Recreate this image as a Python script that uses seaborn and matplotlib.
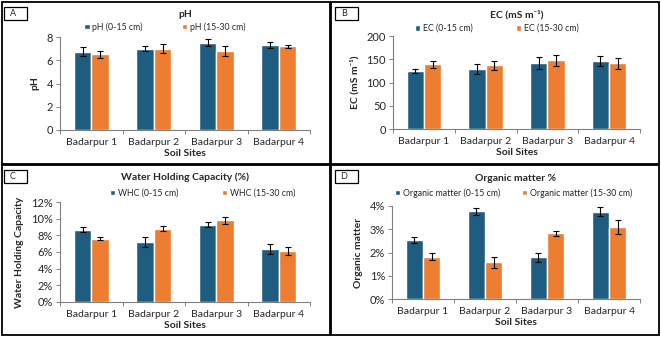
import numpy as np
import pandas as pd
import matplotlib

matplotlib.use("Agg")
import matplotlib.pyplot as plt
import matplotlib.ticker as mtick
from matplotlib.patches import Rectangle
import seaborn as sns

sites = ["Badarpur 1", "Badarpur 2", "Badarpur 3", "Badarpur 4"]

ph_top = [6.75, 7.0, 7.5, 7.3]
ph_top_err = [0.35, 0.2, 0.3, 0.25]
ph_sub = [6.5, 7.0, 6.8, 7.2]
ph_sub_err = [0.3, 0.4, 0.45, 0.15]

ec_top = [124, 129, 141, 147]
ec_top_err = [4, 10, 13, 11]
ec_sub = [139, 137, 148, 141]
ec_sub_err = [8, 10, 12, 11]

whc_top = [8.7, 7.2, 9.3, 6.4]
whc_top_err = [0.3, 0.55, 0.25, 0.6]
whc_sub = [7.6, 8.8, 9.8, 6.1]
whc_sub_err = [0.2, 0.3, 0.4, 0.45]

om_top = [2.55, 3.77, 1.8, 3.75]
om_top_err = [0.12, 0.15, 0.2, 0.2]
om_sub = [1.82, 1.57, 2.82, 3.1]
om_sub_err = [0.15, 0.25, 0.1, 0.3]

BLUE = "#1F5D80"
ORANGE = "#ED7D31"

sns.set_theme(style="white")
plt.rcParams["font.family"] = ["Lato", "DejaVu Sans"]

W, H = 661, 338
fig = plt.figure(figsize=(W / 100, H / 100), dpi=100)


def px_axes(left, top, right, bottom):
    return fig.add_axes([left / W, 1 - bottom / H, (right - left) / W, (bottom - top) / H])


def panel(ax, top, top_err, sub, sub_err, name, title, ylabel, ylim, yticks, pct,
          title_y, leg_y, leg_cx, colsp):
    df = pd.DataFrame({
        "site": sites * 2,
        "value": top + sub,
        "err": top_err + sub_err,
        "depth": [f"{name} (0-15 cm)"] * 4 + [f"{name} (15-30 cm)"] * 4,
    })
    sns.barplot(data=df, x="site", y="value", hue="depth", palette=[BLUE, ORANGE],
                width=0.56, gap=0, errorbar=None, ax=ax, saturation=1)
    # error bars on bar centres
    bars = [p for p in ax.patches if p.get_height() > 0][:8]
    for bar, (_, row) in zip(bars, df.iterrows()):
        ax.errorbar(bar.get_x() + bar.get_width() / 2, bar.get_height(), yerr=row["err"],
                    fmt="none", ecolor="black", elinewidth=0.8, capsize=2, capthick=0.8)
    ax.set_ylim(*ylim)
    ax.set_yticks(yticks)
    ax.set_xlim(-0.5, 3.5)
    if pct:
        ax.yaxis.set_major_formatter(mtick.FuncFormatter(lambda v, p: f"{v:.0f}%"))
    ax.set_xlabel("Soil Sites", fontsize=7.5, fontweight="bold", labelpad=1)
    ax.set_ylabel(ylabel, fontsize=7.5, fontweight="bold", labelpad=5)
    ax.tick_params(axis="x", which="major", length=0, labelsize=7.5, pad=6)
    ax.tick_params(axis="y", which="major", length=3, width=0.7, color="#808080",
                   labelsize=8, pad=2, direction="out", left=True)
    ax.xaxis.set_minor_locator(mtick.FixedLocator([-0.5, 0.5, 1.5, 2.5, 3.5]))
    ax.tick_params(axis="x", which="minor", length=3, width=0.7, color="#808080",
                   direction="out", bottom=True)
    for s in ["top", "right"]:
        ax.spines[s].set_visible(False)
    for s in ["left", "bottom"]:
        ax.spines[s].set_color("#808080")
        ax.spines[s].set_linewidth(0.8)
    ax.text(0.5, title_y, title, transform=ax.transAxes, ha="center", va="center",
            fontsize=7.5, fontweight="bold")
    ax.legend(loc="center", bbox_to_anchor=(leg_cx, leg_y), ncol=2, frameon=False,
              fontsize=6.3, handlelength=0.6, handleheight=0.6, handletextpad=0.3,
              columnspacing=colsp, borderpad=0)


axA = px_axes(60, 37, 310, 130)
panel(axA, ph_top, ph_top_err, ph_sub, ph_sub_err, "pH", "pH", "pH",
      (0, 8), [0, 2, 4, 6, 8], False, 1.24, 1.11, 0.42, 4.5)

axB = px_axes(393, 36, 640, 129)
panel(axB, ec_top, ec_top_err, ec_sub, ec_sub_err, "EC", "EC (mS m\u207b\u00b9)",
      "EC (mS m\u207b\u00b9)", (0, 200), [0, 50, 100, 150, 200], False, 1.23, 1.08, 0.42, 5.0)

axC = px_axes(60, 202, 310, 302)
panel(axC, whc_top, whc_top_err, whc_sub, whc_sub_err, "WHC", "Water Holding Capacity (%)",
      "Water Holding Capacity", (0, 12), [0, 2, 4, 6, 8, 10, 12], True, 1.25, 1.09, 0.57, 5.0)

axD = px_axes(392, 206, 640, 299)
panel(axD, om_top, om_top_err, om_sub, om_sub_err, "Organic matter", "Organic matter %",
      "Organic matter", (0, 4), [0, 1, 2, 3, 4], True, 1.3, 1.14, 0.49, 2.5)

# panel frames
for (l, t, r, b) in [(2, 2, 330, 164), (331, 2, 659, 164), (2, 165, 330, 335), (331, 165, 659, 335)]:
    fig.patches.append(Rectangle((l / W, 1 - b / H), (r - l) / W, (b - t) / H,
                                 transform=fig.transFigure, fill=False,
                                 edgecolor="black", linewidth=1.3))

# letter boxes
for (l, t, letter) in [(4, 7, "A"), (335, 7, "B"), (4, 170, "C"), (335, 170, "D")]:
    fig.patches.append(Rectangle((l / W, 1 - (t + 13) / H), 23 / W, 13 / H,
                                 transform=fig.transFigure, fill=False,
                                 edgecolor="black", linewidth=0.9))
    fig.text((l + 9) / W, 1 - (t + 6.5) / H, letter, ha="center", va="center", fontsize=6.5)

plt.savefig("out.png", dpi=100)
